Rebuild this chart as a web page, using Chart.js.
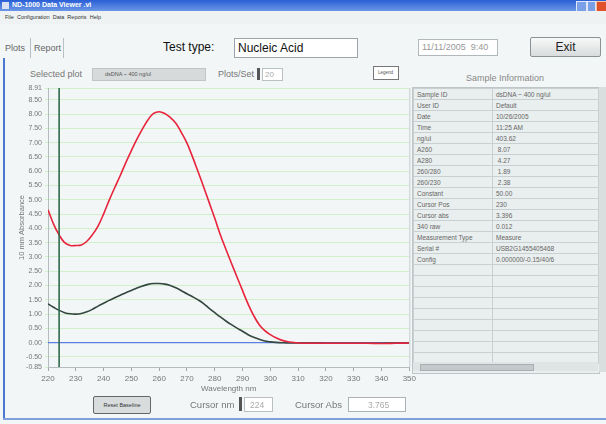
<!DOCTYPE html>
<html>
<head>
<meta charset="utf-8">
<script src="https://cdn.jsdelivr.net/npm/chart.js@4/dist/chart.umd.min.js"></script>
<style>
  body { margin: 0; width: 606px; height: 424px; overflow: hidden; background: #f2f6f6; font-family: "Liberation Sans", Arial, sans-serif; position: relative; }
  .abs { position: absolute; }
  .titlebar { left: 0; top: 0; width: 606px; height: 11px; background: linear-gradient(#2a5fd6, #6b97e6); }
  .titlebar span { position: absolute; left: 12px; top: 1px; font-size: 7px; font-weight: bold; color: #fff; }
  .menubar { left: 0; top: 11px; width: 606px; height: 13px; background: #eef2f3; font-size: 5.5px; color: #333; }
  .box { background: #fff; border: 1px solid #9aa4a8; }
  .btn { background: linear-gradient(#f8f8f8, #d8dcdc); border: 1px solid #8a9296; border-radius: 2px; text-align: center; }
  table.info { border-collapse: collapse; font-size: 6.5px; color: #666; background: #e9eeee; }
  table.info td { border: 1px solid #c9d0d2; height: 10px; padding: 0 3px; white-space: nowrap; }
</style>
</head>
<body>
<div class="abs titlebar"><span>ND-1000 Data Viewer .vi</span></div>
<div class="abs" style="left:2px;top:2px;width:7px;height:7px;background:#d9e2f2;"></div>
<div class="abs" style="left:576px;top:1px;width:9px;height:9px;background:#7aa0e8;border:1px solid #dfe8f8;"></div>
<div class="abs" style="left:587px;top:1px;width:7px;height:9px;background:#7aa0e8;border:1px solid #dfe8f8;"></div>
<div class="abs" style="left:596px;top:1px;width:10px;height:9px;background:#e0502a;border:1px solid #f6c0a0;"></div>
<div class="abs menubar"><span style="position:absolute;left:5px;top:3px;">File&nbsp; Configuration&nbsp; Data&nbsp; Reports&nbsp; Help</span></div>

<div class="abs" style="left:3px;top:58px;width:2px;height:362px;background:#4a78d0;"></div>
<div class="abs" style="left:3px;top:418px;width:603px;height:2px;background:#7fa0dc;"></div>

<div class="abs" style="left:5px;top:43px;font-size:9px;color:#666;">Plots</div>
<div class="abs" style="left:30px;top:38px;width:32px;height:20px;border-left:1px solid #b8c0c4;border-right:1px solid #b8c0c4;"></div>
<div class="abs" style="left:34px;top:43px;font-size:9px;color:#666;">Report</div>

<div class="abs" style="left:163px;top:40px;font-size:12px;color:#111;">Test type:</div>
<div class="abs box" style="left:234px;top:38px;width:122px;height:18px;"><span style="position:absolute;left:3px;top:2px;font-size:12px;color:#111;">Nucleic Acid</span></div>
<div class="abs box" style="left:418px;top:39px;width:78px;height:15px;border-color:#b0b8bb;"><span style="position:absolute;left:3px;top:2px;font-size:9px;color:#999;">11/11/2005&nbsp; 9:40</span></div>
<div class="abs btn" style="left:530px;top:37px;width:69px;height:18px;font-size:12px;line-height:18px;color:#222;">Exit</div>

<div class="abs" style="left:30px;top:69px;font-size:9px;color:#777;">Selected plot</div>
<div class="abs" style="left:92px;top:68px;width:112px;height:11px;background:#d6dadb;border:1px solid #c0c6c8;"><span style="position:absolute;left:12px;top:2px;font-size:5.5px;color:#555;">dsDNA ~ 400 ng/ul</span></div>
<div class="abs" style="left:218px;top:69px;font-size:9px;color:#777;">Plots/Set</div>
<div class="abs" style="left:257px;top:68px;width:3px;height:12px;background:#555;"></div>
<div class="abs box" style="left:262px;top:68px;width:19px;height:11px;border-color:#b8c0c4;"><span style="position:absolute;left:2px;top:1px;font-size:8px;color:#aaa;">20</span></div>
<div class="abs box" style="left:373px;top:66px;width:24px;height:12px;border-color:#777;"><span style="position:absolute;left:4px;top:3px;font-size:4.5px;color:#555;">Legend</span></div>
<div class="abs" style="left:466px;top:73px;font-size:9px;color:#888;">Sample Information</div>

<div class="abs" style="left:412px;top:87px;width:186px;height:285px;background:#e9eeee;border:1px solid #bfc6c8;overflow:hidden;">
  <table class="info" id="info" style="width:186px;"></table>
</div>
<div class="abs" style="left:599px;top:87px;width:7px;height:285px;background:#d9dedf;"></div>
<div class="abs" style="left:413px;top:362px;width:185px;height:9px;background:#dfe4e4;"></div>
<div class="abs" style="left:420px;top:364px;width:112px;height:5px;background:#c4cacb;border:1px solid #a9b0b2;"></div>

<div class="abs" style="left:0;top:80px;width:419px;height:320px;"><canvas id="plot"></canvas></div>

<div class="abs btn" style="left:93px;top:396px;width:56px;height:16px;font-size:5.5px;line-height:16px;color:#333;background:#d8dcdd;border-color:#666;">Reset Baseline</div>
<div class="abs" style="left:190px;top:399px;font-size:9.5px;color:#777;">Cursor nm</div>
<div class="abs" style="left:239px;top:397px;width:3px;height:14px;background:#555;"></div>
<div class="abs box" style="left:244px;top:397px;width:27px;height:13px;border-color:#b8c0c4;"><span style="position:absolute;left:5px;top:2px;font-size:8.5px;color:#aaa;">224</span></div>
<div class="abs" style="left:295px;top:399px;font-size:9.5px;color:#777;">Cursor Abs</div>
<div class="abs box" style="left:348px;top:397px;width:56px;height:13px;border-color:#aab2b5;"><span style="position:absolute;left:19px;top:2px;font-size:8.5px;color:#aaa;">3.765</span></div>

<script>
// spectrum, nm vs 10 mm absorbance
const wavelengths = [220, 222, 224, 226, 228, 230, 232, 234, 236, 238, 240, 242, 244, 246, 248, 250,
    252, 254, 256, 258, 260, 262, 264, 266, 268, 270, 272, 274, 276, 278, 280, 282, 284, 286, 288, 290,
    292, 294, 296, 298, 300, 302, 304, 306, 308, 310, 315, 320, 325, 330, 335, 340, 345, 350];
const sampleAbs = [4.65, 4.15, 3.77, 3.50, 3.40, 3.40, 3.42, 3.55, 3.78, 4.08, 4.50, 4.98, 5.42, 5.85, 6.30, 6.72,
    7.12, 7.48, 7.80, 8.02, 8.08, 8.02, 7.88, 7.68, 7.35, 6.98, 6.50, 5.98, 5.45, 4.90, 4.35, 3.78, 3.27, 2.78, 2.30, 1.82,
    1.35, 0.95, 0.63, 0.42, 0.28, 0.17, 0.09, 0.04, 0.01, -0.01, -0.02, -0.02, -0.02, -0.02, -0.02, -0.03, -0.02, -0.01];
const prevAbs = [1.36, 1.24, 1.13, 1.05, 1.01, 1.00, 1.02, 1.08, 1.17, 1.28, 1.38, 1.48, 1.57, 1.66, 1.75, 1.83,
    1.91, 1.98, 2.04, 2.07, 2.07, 2.05, 2.00, 1.92, 1.82, 1.71, 1.61, 1.50, 1.37, 1.20, 1.05, 0.90, 0.76, 0.63, 0.51, 0.40,
    0.28, 0.19, 0.12, 0.06, 0.03, 0.01, 0.00, -0.01, -0.01, -0.01, -0.01, -0.02, -0.02, -0.02, -0.02, -0.02, -0.01, -0.01];
const cursorNm = 224;
const xTicks = [220, 230, 240, 250, 260, 270, 280, 290, 300, 310, 320, 330, 340, 350];
const yTicks = [-0.85, -0.5, 0, 0.5, 1, 1.5, 2, 2.5, 3, 3.5, 4, 4.5, 5, 5.5, 6, 6.5, 7, 7.5, 8, 8.5, 8.91];

const infoLabels = ['Sample ID', 'User ID', 'Date', 'Time', 'ng/ul', 'A260', 'A280', '260/280', '260/230', 'Constant',
    'Cursor Pos', 'Cursor abs', '340 raw', 'Measurement Type', 'Serial #', 'Config'];
const infoValues = ['dsDNA ~ 400 ng/ul', 'Default', '10/26/2005', '11:25 AM', '403.62', ' 8.07', ' 4.27', ' 1.89', ' 2.38', '50.00',
    '230', '3.396', '0.012', 'Measure', 'USB2G1455405468', '0.000000/-0.15/40/6'];

// table on the right
let info = document.getElementById('info');
for (let i = 0; i < 25; i++) {
    let row = document.createElement('tr');
    let c1 = document.createElement('td');
    let c2 = document.createElement('td');
    c1.style.width = '72px';
    c1.textContent = infoLabels[i] || '';
    c2.textContent = infoValues[i] || '';
    c2.style.whiteSpace = 'pre';
    row.appendChild(c1);
    row.appendChild(c2);
    info.appendChild(row);
}

function toPoints(xs, ys) {
    return xs.map((x, i) => ({x: x, y: ys[i]}));
}

// thin frame on the right side of the plot area
const rightEdge = {
    id: 'rightEdge',
    afterDraw(chart) {
        let a = chart.chartArea;
        let c = chart.ctx;
        c.save();
        c.strokeStyle = '#c4cccf';
        c.lineWidth = 1;
        c.beginPath();
        c.moveTo(a.right + 0.5, a.top);
        c.lineTo(a.right + 0.5, a.bottom);
        c.stroke();
        c.restore();
    }
};

let ctx = document.getElementById('plot').getContext('2d');

new Chart(ctx, {
    type: 'line',
    data: {
        datasets: [{
            label: 'cursor',
            data: [{x: cursorNm, y: yTicks[0]}, {x: cursorNm, y: yTicks[yTicks.length - 1]}],
            borderColor: '#2e6a4c',
            borderWidth: 1.6,
            pointRadius: 0,
            order: 0
        }, {
            label: 'dsDNA ~ 400 ng/ul',
            data: toPoints(wavelengths, sampleAbs),
            borderColor: '#e8243c',
            borderWidth: 1.6,
            pointRadius: 0,
            tension: 0.4,
            order: 1
        }, {
            label: 'previous',
            data: toPoints(wavelengths, prevAbs),
            borderColor: '#33473f',
            borderWidth: 1.6,
            pointRadius: 0,
            tension: 0.4,
            order: 2
        }, {
            label: 'baseline',
            data: [{x: xTicks[0], y: 0}, {x: xTicks[xTicks.length - 1], y: 0}],
            borderColor: '#5b7fe0',
            borderWidth: 1.2,
            pointRadius: 0,
            order: 3
        }]
    },
    options: {
        responsive: true,
        maintainAspectRatio: false,
        animation: false,
        layout: {
            padding: {left: 0, right: 4, top: 8, bottom: 6}
        },
        plugins: {
            legend: {display: false},
            tooltip: {enabled: false}
        },
        scales: {
            x: {
                type: 'linear',
                min: 220,
                max: 350,
                afterBuildTicks: axis => { axis.ticks = xTicks.map(v => ({value: v})); },
                afterFit: axis => { axis.height = 27; },
                grid: {drawOnChartArea: false, tickLength: 4, color: '#a0a8ab'},
                border: {color: '#b4bcbf'},
                ticks: {color: '#777', font: {size: 8, family: 'Liberation Sans'}, padding: 3, maxRotation: 0},
                title: {display: true, text: 'Wavelength nm', color: '#777', font: {size: 8, family: 'Liberation Sans'}, padding: 0}
            },
            y: {
                min: -0.85,
                max: 8.91,
                afterBuildTicks: axis => { axis.ticks = yTicks.map(v => ({value: v})); },
                afterFit: axis => { axis.width = 48; },
                grid: {color: '#d2efcc', tickLength: 3},
                border: {color: '#b4bcbf'},
                ticks: {color: '#777', font: {size: 7, family: 'Liberation Sans'}, padding: 3,
                    callback: v => v.toFixed(2)},
                title: {display: true, text: '10 mm Absorbance', color: '#777', font: {size: 7.5, family: 'Liberation Sans'}, padding: {top: 17}}
            }
        }
    },
    plugins: [rightEdge]
});
</script>
</body>
</html>
